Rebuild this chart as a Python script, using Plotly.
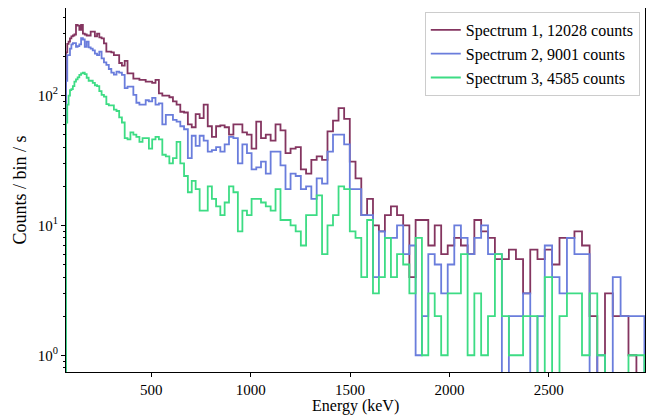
import numpy as np
import plotly.graph_objects as go

# histogram binning: bins equally spaced in sqrt(E)
E_MIN, E_MAX, N_BINS = 71, 2981, 125

# counts / bin / s (0 = empty bin)
spectrum_1 = [
    215, 250, 260, 275, 285, 290, 295, 350, 345, 320,
    350, 300, 295, 290, 290, 310, 310, 285, 300, 280,
    275, 252, 218, 218, 215, 205, 205, 178, 170, 185,
    148, 148, 135, 135, 132, 132, 128, 128, 125, 132,
    104, 100, 100, 97, 90, 85, 75, 74, 60, 57,
    72, 67, 85, 58, 48, 58, 59, 57, 50, 60,
    60, 52, 50, 39, 63, 47, 50, 45, 60, 54,
    36, 39, 40, 27, 25, 32, 34, 32, 53, 64,
    80, 66, 31, 23, 12, 16, 10, 9, 12, 14,
    12, 10, 4, 11, 11, 7, 10, 6, 7, 8,
    7, 6, 11, 9, 8, 5.5, 5.5, 6.5, 5.5, 3,
    6.5, 5.5, 6.5, 5, 8, 8, 9, 7, 2, 0,
    3, 2, 2, 1, 0,
]
spectrum_2 = [
    130, 205, 205, 230, 248, 253, 253, 237, 240, 248,
    276, 270, 237, 260, 235, 230, 223, 210, 205, 218,
    193, 180, 172, 160, 150, 145, 153, 150, 144, 114,
    117, 117, 101, 88, 85, 85, 92, 90, 96, 85,
    87, 60, 71, 71, 65, 63, 58, 55, 33, 49,
    41, 49, 45, 37, 38, 40, 37, 42, 48, 47,
    30, 42, 36, 27, 28, 31, 25, 37, 37, 29,
    19, 25, 24, 19, 20, 16, 23, 21, 37, 50,
    50, 42, 19, 19, 12, 12, 4, 9, 8, 8,
    10, 6, 7, 1, 2, 6, 5, 3, 5, 10,
    8, 6, 8, 10, 6, 6, 0, 2, 2, 3,
    0, 2, 7, 4, 3, 8, 6, 6, 0, 1,
    0, 4, 2, 2, 2,
]
spectrum_3 = [
    62, 85, 100, 110, 112, 118, 128, 133, 138, 144,
    148, 150, 146, 137, 130, 130, 125, 120, 118, 108,
    101, 98, 86, 84, 84, 78, 76, 68, 62, 47,
    46, 52, 50, 48, 44, 47, 47, 39, 46, 48,
    46, 35, 34, 30, 33, 44, 30, 24, 18, 22,
    19, 13, 13, 20, 16, 14, 12, 15, 20, 18,
    9, 13, 12, 16, 16, 15, 14, 13, 19, 11,
    11, 10, 9, 7, 12, 12, 17, 6, 10, 12,
    20, 19, 9, 8, 4, 11, 3, 4, 8, 4,
    6, 5, 3, 8, 1, 3, 2, 1, 3, 3,
    6, 1, 3, 1, 2, 6, 2, 1, 1, 2,
    2, 0, 4, 0, 2, 3, 3, 1, 3, 1,
    0, 0, 0, 1, 1,
]

names = ["Spectrum 1, 12028 counts", "Spectrum 2, 9001 counts", "Spectrum 3, 4585 counts"]
colors = ["#843560", "#6a7ddc", "#3ddc84"]

edges = np.linspace(np.sqrt(E_MIN), np.sqrt(E_MAX), N_BINS + 1) ** 2
FLOOR = 0.01  # empty bins drop below the log axis, like matplotlib does

fig = go.Figure()
for vals, name, col in zip([spectrum_1, spectrum_2, spectrum_3], names, colors):
    v = np.array(vals, dtype=float)
    v[v <= 0] = FLOOR
    xs = np.concatenate([[edges[0]], edges])
    ys = np.concatenate([[FLOOR], v, [FLOOR]])
    fig.add_trace(go.Scatter(x=xs, y=ys, mode='lines', name=name,
                             line=dict(shape='hv', color=col, width=1.8)))

font = "Liberation Serif, Times New Roman, serif"
minor_vals = [0.8, 0.9] + [i for i in range(2, 10)] + [i * 10 for i in range(2, 10)] + [200, 300, 400]

# page body has an 8px margin, so the figure is drawn 8px smaller
fig.update_layout(
    width=650, height=408,
    margin=dict(l=58, r=13, t=0, b=44),
    paper_bgcolor='white', plot_bgcolor='white',
    font=dict(family=font, size=15, color='black'),
    showlegend=True,
    legend=dict(x=0.991, y=0.989, xanchor='right', yanchor='top',
                bgcolor='rgba(255,255,255,0.8)', bordercolor='#cccccc', borderwidth=1,
                font=dict(family=font, size=16), tracegroupgap=0),
    xaxis=dict(range=[E_MIN, 2984], showline=True, mirror=True, linecolor='black',
               linewidth=1, showgrid=False, zeroline=False, ticks='outside',
               ticklen=4, tickcolor='black', tickvals=[500, 1000, 1500, 2000, 2500],
               automargin=False),
    yaxis=dict(type='log', range=[-0.129, 2.674], showline=True, mirror=True,
               linecolor='black', linewidth=1, showgrid=False, zeroline=False,
               ticks='outside', ticklen=4, tickcolor='black',
               tickvals=[1, 10, 100],
               ticktext=['10<sup>0</sup>', '10<sup>1</sup>', '10<sup>2</sup>'],
               minor=dict(tickvals=minor_vals, ticks='outside', ticklen=2,
                          tickcolor='black', showgrid=False),
               automargin=False,
               title=dict(text='Counts / bin / s', standoff=6)),
)

# x title placed by hand so it clears the tick labels
fig.add_annotation(text='Energy (keV)', xref='paper', yref='paper', x=0.5, y=-0.093,
                   xanchor='center', yanchor='middle', showarrow=False,
                   font=dict(family=font, size=16, color='black'))

fig.write_html("out.html")
